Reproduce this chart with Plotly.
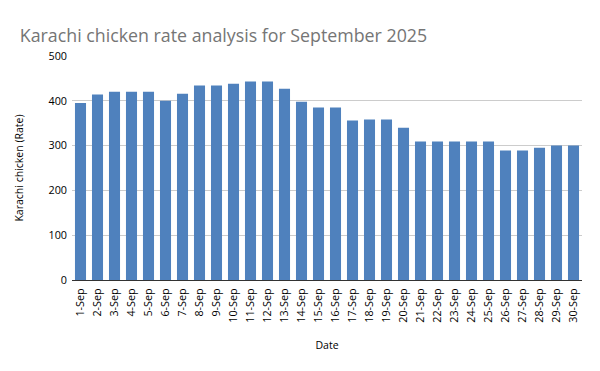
import plotly.graph_objects as go

dates = [f"{d}-Sep" for d in range(1, 31)]
rates = [395, 414, 420, 420, 420, 400, 416, 434, 434, 438, 443, 443, 427, 398, 385,
         385, 356, 358, 358, 340, 309, 309, 309, 309, 309, 289, 289, 295, 300, 300]
y_ticks = [0, 100, 200, 300, 400, 500]

fig = go.Figure(go.Bar(x=dates, y=rates, marker=dict(color="#4f81bd", line=dict(width=0))))

# page body has an 8px margin, so the figure is sized 8px smaller
fig.update_layout(
    width=592, height=363,
    margin=dict(l=64, r=18, t=48, b=91),
    paper_bgcolor="white", plot_bgcolor="white",
    bargap=0.35,
    font=dict(family="Open Sans", size=11, color="#000000"),
    title=dict(text="Karachi chicken rate analysis for September 2025",
               x=0.02, xanchor="left", y=0.923, yanchor="middle",
               font=dict(family="Open Sans", size=17.8, color="#757575")),
    xaxis=dict(title=dict(text="Date", font=dict(size=10.5), standoff=19),
               tickangle=-90, showline=True, linecolor="#333333", linewidth=1,
               showgrid=False, ticks="", ticklabelstandoff=3, tickfont=dict(size=10.8)),
    yaxis=dict(title=dict(text="Karachi chicken (Rate)", font=dict(size=10.5), standoff=22),
               range=[0, 500], tickvals=y_ticks, showgrid=True, gridcolor="#cccccc",
               zeroline=False, ticks="", ticklabelstandoff=4, tickfont=dict(size=10.8)),
    showlegend=False,
)

fig.write_html("out.html")
